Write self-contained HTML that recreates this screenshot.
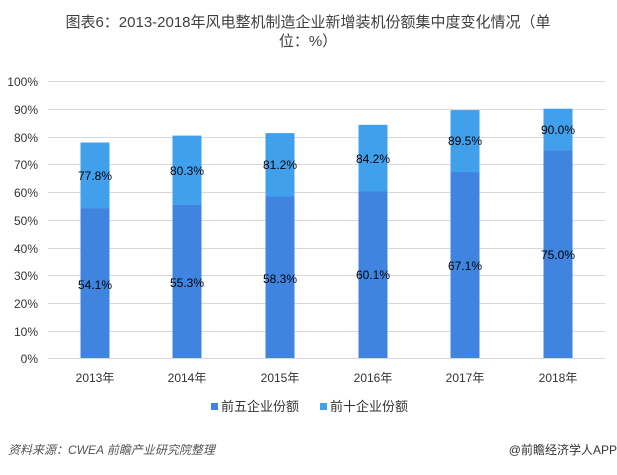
<!DOCTYPE html><html><head><meta charset="utf-8"><style>
body{margin:0;background:#fff;font-family:"Liberation Sans","Noto Sans CJK SC",sans-serif;}
</style></head><body>
<svg width="617" height="470" xmlns="http://www.w3.org/2000/svg" font-family="Liberation Sans, Noto Sans CJK SC, sans-serif">
<rect width="617" height="470" fill="#fff"/>
<text x="308" y="27" text-anchor="middle" font-size="15" fill="#404040">图表6：2013-2018年风电整机制造企业新增装机份额集中度变化情况（单</text>
<text x="308" y="46" text-anchor="middle" font-size="15" fill="#404040">位：%）</text>
<g stroke="#d9d9d9" stroke-width="1">
<line x1="48" x2="605" y1="81.5" y2="81.5"/><line x1="48" x2="605" y1="109.5" y2="109.5"/><line x1="48" x2="605" y1="137.5" y2="137.5"/><line x1="48" x2="605" y1="164.5" y2="164.5"/><line x1="48" x2="605" y1="192.5" y2="192.5"/><line x1="48" x2="605" y1="220.5" y2="220.5"/><line x1="48" x2="605" y1="248.5" y2="248.5"/><line x1="48" x2="605" y1="275.5" y2="275.5"/><line x1="48" x2="605" y1="303.5" y2="303.5"/><line x1="48" x2="605" y1="331.5" y2="331.5"/><line x1="48" x2="605" y1="358.5" y2="358.5"/>
</g>
<g font-size="12" fill="#333" text-anchor="end">
<text x="38" y="86">100%</text><text x="38" y="114">90%</text><text x="38" y="142">80%</text><text x="38" y="169">70%</text><text x="38" y="197">60%</text><text x="38" y="225">50%</text><text x="38" y="253">40%</text><text x="38" y="280">30%</text><text x="38" y="308">20%</text><text x="38" y="336">10%</text><text x="38" y="363">0%</text>
</g>
<g id="bars"></g>
<g font-size="12" fill="#000" text-anchor="middle">
<rect x="80.5" y="142.5" width="29" height="65.7" fill="#41a0ec"/><rect x="80.5" y="208.1" width="29" height="149.9" fill="#3f85e0"/>
<text x="95" y="289">54.1%</text><text x="95" y="180">77.8%</text>
<rect x="172.5" y="135.6" width="29" height="69.3" fill="#41a0ec"/><rect x="172.5" y="204.8" width="29" height="153.2" fill="#3f85e0"/>
<text x="187" y="287">55.3%</text><text x="187" y="175">80.3%</text>
<rect x="265.5" y="133.1" width="29" height="63.7" fill="#41a0ec"/><rect x="265.5" y="196.5" width="29" height="161.5" fill="#3f85e0"/>
<text x="280" y="283">58.3%</text><text x="280" y="169">81.2%</text>
<rect x="358.5" y="124.8" width="29" height="66.9" fill="#41a0ec"/><rect x="358.5" y="191.5" width="29" height="166.5" fill="#3f85e0"/>
<text x="373" y="279">60.1%</text><text x="373" y="163">84.2%</text>
<rect x="450.5" y="110.1" width="29" height="62.3" fill="#41a0ec"/><rect x="450.5" y="172.1" width="29" height="185.9" fill="#3f85e0"/>
<text x="465" y="270">67.1%</text><text x="465" y="145">89.5%</text>
<rect x="543.5" y="108.7" width="29" height="41.6" fill="#41a0ec"/><rect x="543.5" y="150.2" width="29" height="207.8" fill="#3f85e0"/>
<text x="558" y="259">75.0%</text><text x="558" y="134">90.0%</text>
</g>
<g font-size="12" fill="#333" text-anchor="middle">
<text x="95" y="382">2013年</text><text x="187" y="382">2014年</text><text x="280" y="382">2015年</text><text x="373" y="382">2016年</text><text x="465" y="382">2017年</text><text x="558" y="382">2018年</text>
</g>
<rect x="211" y="403" width="7" height="7" fill="#3f85e0"/>
<text x="221" y="411" font-size="13" fill="#333">前五企业份额</text>
<rect x="320" y="403" width="7" height="7" fill="#41a0ec"/>
<text x="330" y="411" font-size="13" fill="#333">前十企业份额</text>
<text x="8" y="454" font-size="12" fill="#555" font-style="italic">资料来源：CWEA  前瞻产业研究院整理</text>
<text x="617" y="454" font-size="12" fill="#333" text-anchor="end">@前瞻经济学人APP</text>
</svg>
</body></html>
